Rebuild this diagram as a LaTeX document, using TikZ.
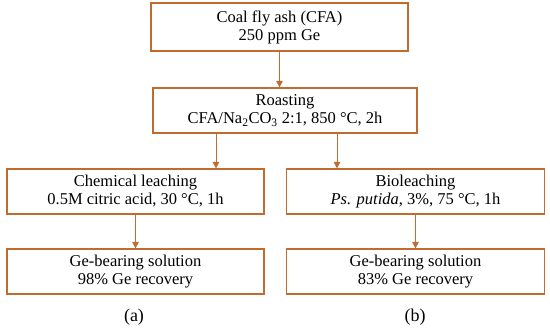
\documentclass[tikz,border=0pt]{standalone}
\usepackage{fontspec}
\setmainfont{Liberation Serif}
\usetikzlibrary{arrows.meta}
\definecolor{brn}{RGB}{190,108,48}
\tikzset{
  box/.style={draw=brn, line width=1.2pt, fill=white, rectangle, align=center,
    inner sep=0pt, font=\fontsize{16.5}{18}\selectfont},
  arr/.style={draw=brn, line width=0.9pt, -{Triangle[length=6.5pt,width=6.5pt]}},
  lab/.style={font=\fontsize{18}{20}\selectfont}
}
\begin{document}
\begin{tikzpicture}[x=1pt,y=-1pt]
\useasboundingbox (0,0) rectangle (550,334);
\node[box, minimum width=257pt, minimum height=48pt] (b1) at (279.5,27) {Coal fly ash (CFA)\\250 ppm Ge};
\node[box, minimum width=264pt, minimum height=45pt] (b2) at (285,110.5) {Roasting\\CFA/Na\textsubscript{2}CO\textsubscript{3} 2:1, 850 °C, 2h};
\node[box, minimum width=257pt, minimum height=45pt] (b3) at (135.5,191.5) {Chemical leaching\\0.5M citric acid, 30 °C, 1h};
\node[box, minimum width=258pt, minimum height=45pt] (b5) at (415.5,191.5) {Bioleaching\\\textit{Ps. putida}, 3\%, 75 °C, 1h};
\node[box, minimum width=257pt, minimum height=45pt] (b4) at (135.5,271.5) {Ge-bearing solution\\98\% Ge recovery};
\node[box, minimum width=258pt, minimum height=45pt] (b6) at (415.5,271.5) {Ge-bearing solution\\83\% Ge recovery};
\node[lab] (la) at (134,317) {(a)};
\node[lab] (lb) at (415,317) {(b)};
\draw[arr] (b1.south) -- (b1.south |- b2.north);
\coordinate (o1) at ([xshift=-69pt]b2.south);
\coordinate (o2) at ([xshift=52pt]b2.south);
\draw[arr] (o1) -- (o1 |- b3.north);
\draw[arr] (o2) -- (o2 |- b5.north);
\draw[arr] (b3.south) -- (b4.north);
\draw[arr] (b5.south) -- (b6.north);
\end{tikzpicture}
\end{document}
